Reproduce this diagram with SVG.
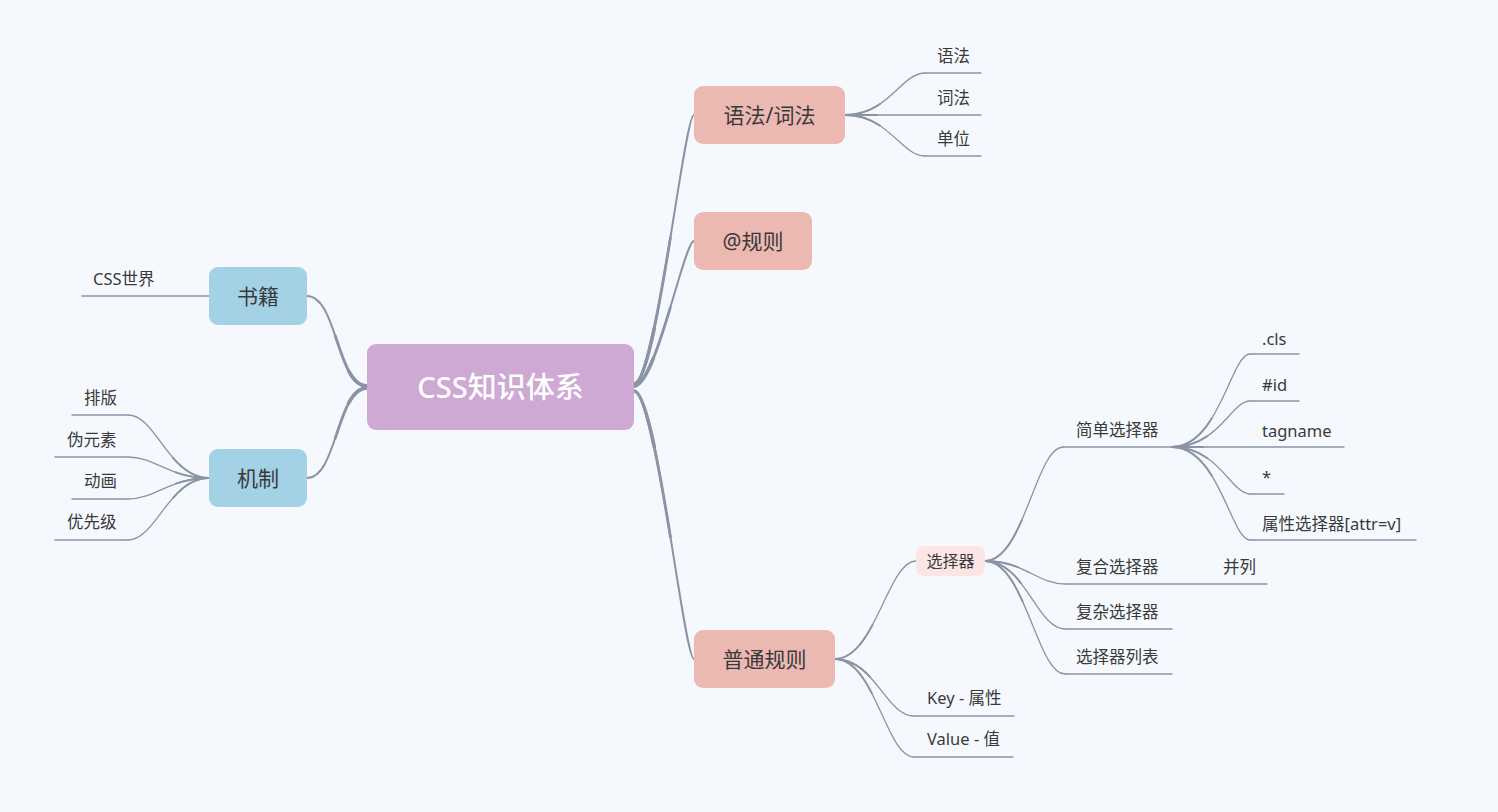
<svg xmlns="http://www.w3.org/2000/svg" width="1498" height="812" viewBox="0 0 1498 812">
<style>
.ln{fill:none;stroke:#8a94a6;stroke-linecap:round}
.r1{stroke-width:2}
.r2{stroke-width:2.8;stroke-dasharray:55 200}
.r3{stroke-width:3.6;stroke-dasharray:22 200}
.s1{stroke-width:1.3}
.s2{stroke-width:1.9;stroke-dasharray:40 200}
.u{stroke-width:1.3}
text{font-family:"Noto Sans","Noto Sans CJK SC",sans-serif;fill:#3a3a3a}
.t0{font-size:29px;fill:#ffffff;text-anchor:middle;font-weight:500}
.t1{font-size:21px;text-anchor:middle}
.t2{font-size:16.5px}
.tm{font-size:16px;text-anchor:middle}
.root{fill:#cda9d3}
.pk{fill:#ecb8b2}
.bl{fill:#a3d2e6}
.lp{fill:#fce6e5}
</style>
<rect width="1498" height="812" fill="#f5f9fe"/>
<g id="connectors">
<g id="root-branches">
<path class="ln r1" d="M634,384 C656,384 684,115 694,115"/>
<path class="ln r2" pathLength="100" d="M634,384 C656,384 684,115 694,115"/>
<path class="ln r3" pathLength="100" d="M634,384 C656,384 684,115 694,115"/>
<path class="ln r1" d="M634,386 C656,386 684,241 694,241"/>
<path class="ln r2" pathLength="100" d="M634,386 C656,386 684,241 694,241"/>
<path class="ln r3" pathLength="100" d="M634,386 C656,386 684,241 694,241"/>
<path class="ln r1" d="M634,391 C656,391 684,659 694,659"/>
<path class="ln r2" pathLength="100" d="M634,391 C656,391 684,659 694,659"/>
<path class="ln r3" pathLength="100" d="M634,391 C656,391 684,659 694,659"/>
<path class="ln r1" d="M367,386 C337,386 337,296 307,296"/>
<path class="ln r2" pathLength="100" d="M367,386 C337,386 337,296 307,296"/>
<path class="ln r3" pathLength="100" d="M367,386 C337,386 337,296 307,296"/>
<path class="ln r1" d="M367,388 C337,388 337,478 307,478"/>
<path class="ln r2" pathLength="100" d="M367,388 C337,388 337,478 307,478"/>
<path class="ln r3" pathLength="100" d="M367,388 C337,388 337,478 307,478"/>
</g>
<g id="sub-branches">
<path class="ln s1" d="M845,115 C889,115 901,73 925,73"/>
<path class="ln s2" pathLength="100" d="M845,115 C889,115 901,73 925,73"/>
<path class="ln s1" d="M845,115 C889,115 901,156 925,156"/>
<path class="ln s2" pathLength="100" d="M845,115 C889,115 901,156 925,156"/>
<path class="ln s2" pathLength="100" d="M845,115 L925,115"/>

<path class="ln s1" d="M835,659 C875,659 888,561 916,561"/>
<path class="ln s2" pathLength="100" d="M835,659 C875,659 888,561 916,561"/>
<path class="ln s1" d="M835,659 C875,659 886,716 914,716"/>
<path class="ln s2" pathLength="100" d="M835,659 C875,659 886,716 914,716"/>
<path class="ln s1" d="M835,659 C875,659 886,757 914,757"/>
<path class="ln s2" pathLength="100" d="M835,659 C875,659 886,757 914,757"/>

<path class="ln s1" d="M985,561 C1024,561 1036,447 1063,447"/>
<path class="ln s2" pathLength="100" d="M985,561 C1024,561 1036,447 1063,447"/>
<path class="ln s1" d="M985,561 C1025,561 1037,584 1065,584"/>
<path class="ln s2" pathLength="100" d="M985,561 C1025,561 1037,584 1065,584"/>
<path class="ln s1" d="M985,561 C1025,561 1037,629 1065,629"/>
<path class="ln s2" pathLength="100" d="M985,561 C1025,561 1037,629 1065,629"/>
<path class="ln s1" d="M985,561 C1025,561 1037,674 1065,674"/>
<path class="ln s2" pathLength="100" d="M985,561 C1025,561 1037,674 1065,674"/>

<path class="ln s1" d="M1172,447 C1219,447 1231,354 1250,354"/>
<path class="ln s2" pathLength="100" d="M1172,447 C1219,447 1231,354 1250,354"/>
<path class="ln s1" d="M1172,447 C1219,447 1231,401 1250,401"/>
<path class="ln s2" pathLength="100" d="M1172,447 C1219,447 1231,401 1250,401"/>
<path class="ln s2" pathLength="100" d="M1172,447 L1250,447"/>
<path class="ln s1" d="M1172,447 C1219,447 1231,494 1250,494"/>
<path class="ln s2" pathLength="100" d="M1172,447 C1219,447 1231,494 1250,494"/>
<path class="ln s1" d="M1172,447 C1219,447 1231,540 1250,540"/>
<path class="ln s2" pathLength="100" d="M1172,447 C1219,447 1231,540 1250,540"/>

<path class="ln s1" d="M209,478 C169,478 156,415 128,415"/>
<path class="ln s2" pathLength="100" d="M209,478 C169,478 156,415 128,415"/>
<path class="ln s1" d="M209,478 C169,478 156,457 128,457"/>
<path class="ln s2" pathLength="100" d="M209,478 C169,478 156,457 128,457"/>
<path class="ln s1" d="M209,478 C169,478 156,499 128,499"/>
<path class="ln s2" pathLength="100" d="M209,478 C169,478 156,499 128,499"/>
<path class="ln s1" d="M209,478 C169,478 156,540 128,540"/>
<path class="ln s2" pathLength="100" d="M209,478 C169,478 156,540 128,540"/>
</g>
<g id="underlines">
<path class="ln u" d="M925,73 L981,73"/>
<path class="ln u" d="M845,115 L981,115"/>
<path class="ln u" d="M925,156 L981,156"/>
<path class="ln u" d="M914,716 L1014,716"/>
<path class="ln u" d="M914,757 L1013,757"/>
<path class="ln u" d="M1063,447 L1172,447"/>
<path class="ln u" d="M1065,584 L1267,584"/>
<path class="ln u" d="M1065,629 L1172,629"/>
<path class="ln u" d="M1065,674 L1172,674"/>
<path class="ln u" d="M1250,354 L1299,354"/>
<path class="ln u" d="M1250,401 L1299,401"/>
<path class="ln u" d="M1172,447 L1344,447"/>
<path class="ln u" d="M1250,494 L1284,494"/>
<path class="ln u" d="M1250,540 L1416,540"/>
<path class="ln u" d="M128,415 L72,415"/>
<path class="ln u" d="M128,457 L55,457"/>
<path class="ln u" d="M128,499 L72,499"/>
<path class="ln u" d="M128,540 L55,540"/>
<path class="ln u" d="M209,296 L82,296"/>
</g>
</g>
<g id="node-root"><rect class="root" x="367" y="344" width="267" height="86" rx="9"/><text class="t0" x="500.5" y="397.5">CSS知识体系</text></g>
<g id="node-yufa"><rect class="pk" x="694" y="86" width="151" height="58" rx="9"/><text class="t1" x="769.5" y="122.5">语法/词法</text></g>
<g id="node-at"><rect class="pk" x="694" y="212" width="118" height="58" rx="9"/><text class="t1" x="753" y="248.5">@规则</text></g>
<g id="node-putong"><rect class="pk" x="694" y="630" width="141" height="58" rx="9"/><text class="t1" x="764.5" y="666.5">普通规则</text></g>
<g id="node-shuji"><rect class="bl" x="209" y="267" width="98" height="58" rx="9"/><text class="t1" x="258" y="303.5">书籍</text></g>
<g id="node-jizhi"><rect class="bl" x="209" y="449" width="98" height="58" rx="9"/><text class="t1" x="258" y="485.5">机制</text></g>
<g id="node-xuanzeqi"><rect class="lp" x="916" y="546" width="69" height="30" rx="8"/><text class="tm" x="950.5" y="566.5">选择器</text></g>
<g id="leaf-yufa"><text class="t2" x="937" y="62">语法</text></g>
<g id="leaf-cifa"><text class="t2" x="937" y="104">词法</text></g>
<g id="leaf-danwei"><text class="t2" x="937" y="145">单位</text></g>
<g id="leaf-key"><text class="t2" x="927" y="704">Key - 属性</text></g>
<g id="leaf-value"><text class="t2" x="927" y="745">Value - 值</text></g>
<g id="leaf-jiandan"><text class="t2" x="1076" y="436">简单选择器</text></g>
<g id="leaf-fuhe"><text class="t2" x="1076" y="573">复合选择器</text></g>
<g id="leaf-binglie"><text class="t2" x="1223" y="573">并列</text></g>
<g id="leaf-fuza"><text class="t2" x="1076" y="618">复杂选择器</text></g>
<g id="leaf-liebiao"><text class="t2" x="1076" y="663">选择器列表</text></g>
<g id="leaf-cls"><text class="t2" x="1262" y="345">.cls</text></g>
<g id="leaf-id"><text class="t2" x="1262" y="391">#id</text></g>
<g id="leaf-tagname"><text class="t2" x="1262" y="437">tagname</text></g>
<g id="leaf-star"><text class="t2" x="1262" y="483">*</text></g>
<g id="leaf-attr"><text class="t2" x="1262" y="530">属性选择器[attr=v]</text></g>
<g id="leaf-css"><text class="t2" x="93" y="285">CSS世界</text></g>
<g id="leaf-paiban"><text class="t2" x="84" y="404">排版</text></g>
<g id="leaf-weiyuansu"><text class="t2" x="67" y="446">伪元素</text></g>
<g id="leaf-donghua"><text class="t2" x="84" y="487">动画</text></g>
<g id="leaf-youxianji"><text class="t2" x="67" y="528">优先级</text></g>
</svg>
